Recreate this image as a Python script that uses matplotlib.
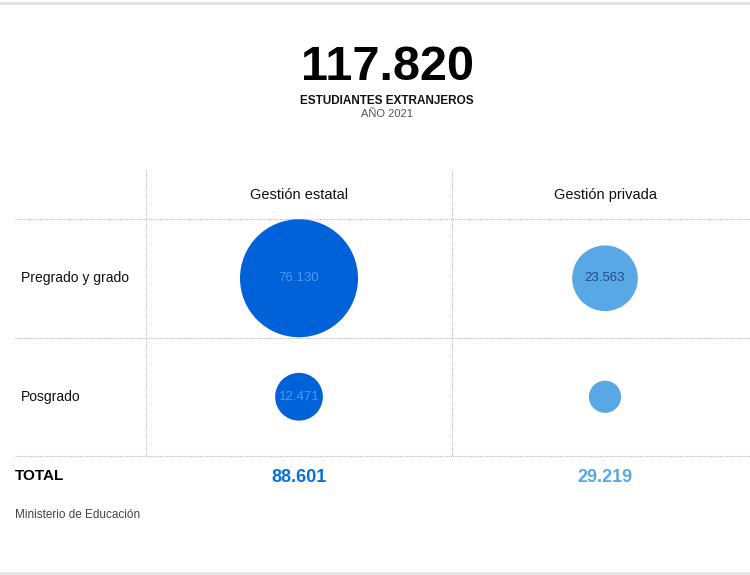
import matplotlib
matplotlib.use("Agg")
import matplotlib.pyplot as plt
from matplotlib import font_manager

# ---- data ----
columns = ["Gestión estatal", "Gestión privada"]
rows = ["Pregrado y grado", "Posgrado"]
values = [[76130, 23563],
          [12471, 5656]]
value_labels = [["76.130", "23.563"],
                ["12.471", ""]]
totals = [88601, 29219]
total_labels = ["88.601", "29.219"]
grand_total = "117.820"
subtitle = "ESTUDIANTES EXTRANJEROS"
year_label = "AÑO 2021"
source = "Ministerio de Educación"

names = {f.name for f in font_manager.fontManager.ttflist}
narrow = "Liberation Sans Narrow" if "Liberation Sans Narrow" in names else "Liberation Sans"
FAM = [narrow, "DejaVu Sans"]
plt.rcParams["font.family"] = FAM

W, H = 750, 575
fig = plt.figure(figsize=(W / 100, H / 100), dpi=100)
fig.patch.set_facecolor("white")

# background axes in pixel units for layout lines / text
bg = fig.add_axes([0, 0, 1, 1])
bg.set_xlim(0, W)
bg.set_ylim(H, 0)
bg.axis("off")

grid_kw = dict(color="#bdbdbd", lw=0.8, ls=(0, (1, 1)))
# frame lines top/bottom
bg.plot([0, W], [3, 3], color="#e3e3e3", lw=2)
bg.plot([0, W], [573, 573], color="#e3e3e3", lw=2)
# horizontal grid lines
for y in (219, 338, 456):
    bg.plot([15, W], [y, y], **grid_kw)
# vertical grid lines
for x in (146, 452):
    bg.plot([x, x], [170, 456], **grid_kw)

# title block
bg.text(387, 68, grand_total, ha="center", va="center", fontsize=35,
        fontweight="bold", color="black")
bg.text(387, 101, subtitle, ha="center", va="center", fontsize=8.5,
        fontweight="bold", color="#111111")
bg.text(387, 114, year_label, ha="center", va="center", fontsize=8,
        color="#555555")

# table axes (data units: column index / row index)
left, right, top, bottom = 146, 758, 219, 456
ax = fig.add_axes([left / W, 1 - bottom / H, (right - left) / W, (bottom - top) / H])
ax.set_xlim(-0.5, len(columns) - 0.5)
ax.set_ylim(len(rows) - 0.5, -0.5)
ax.axis("off")
ax.patch.set_alpha(0)

col_colors = ["#0062d8", "#58a8e6"]
text_colors = [["#4898f2", "#1d4f85"], ["#4898f2", "#1d4f85"]]
total_colors = ["#0a6fd8", "#58a8e6"]

vmax = max(max(r) for r in values)
smax = (118 * 0.72) ** 2
for i, r in enumerate(rows):
    for j, c in enumerate(columns):
        v = values[i][j]
        ax.scatter([j], [i], s=v / vmax * smax, color=col_colors[j],
                   edgecolors="none", zorder=3)
        if value_labels[i][j]:
            ax.text(j, i, value_labels[i][j], ha="center", va="center",
                    fontsize=9.5, color=text_colors[i][j], zorder=4)

# column headers
for j, c in enumerate(columns):
    ax.text(j, -0.5 - 24 / 118.5, c, ha="center", va="center", fontsize=10.5,
            color="#111111")
# row labels
for i, r in enumerate(rows):
    ax.text(-0.5 - 125 / 306, i, r, ha="left", va="center", fontsize=10,
            color="#111111", clip_on=False)

# totals
bg.text(15, 476, "TOTAL", ha="left", va="center", fontsize=11,
        fontweight="bold", color="black")
for j, t in enumerate(total_labels):
    ax.text(j, len(rows) - 0.5 + 21 / 118.5, t, ha="center", va="center",
            fontsize=13, fontweight="bold", color=total_colors[j], clip_on=False)

bg.text(15, 515, source, ha="left", va="center", fontsize=8.5, color="#444444")

fig.savefig("out.png", dpi=100, facecolor="white")
